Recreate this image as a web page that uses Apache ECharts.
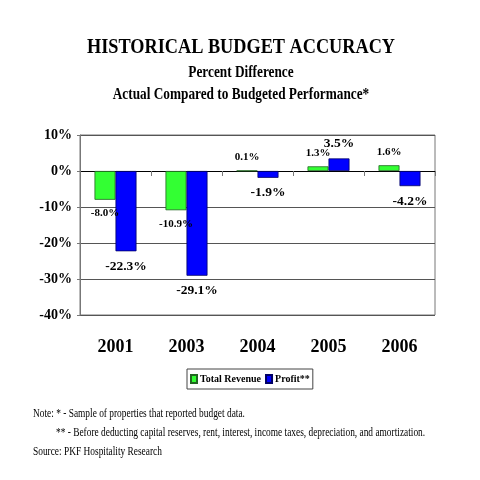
<!DOCTYPE html>
<html>
<head>
<meta charset="utf-8">
<script src="https://cdn.jsdelivr.net/npm/echarts@6/dist/echarts.min.js"></script>
<style>
  html, body { margin: 0; padding: 0; background: #fff; }
  #container { width: 480px; height: 480px; }
</style>
</head>
<body>
<div id="container"></div>
<script>
// 年份
const years = ['2001', '2003', '2004', '2005', '2006'];
// 总收入偏差 (%)
const revenueData = [-8.0, -10.9, 0.1, 1.3, 1.6];
// 利润偏差 (%)
const profitData = [-22.3, -29.1, -1.9, 3.5, -4.2];
// y 轴范围
const yMin = -40;
const yMax = 10;
const yStep = 10;

const serif = 'Liberation Serif';

// 正值标签在上，负值标签在下
function withLabelPos(arr) {
  return arr.map(v => ({
    value: v,
    label: { position: v >= 0 ? 'top' : 'bottom' }
  }));
}

function pct(p) {
  return p.value.toFixed(1) + '%';
}

// 压缩字体的文字（模拟窄体 Times）
function txt(text, x, y, size, weight, align, sx) {
  return {
    type: 'text',
    x: x,
    y: y,
    scaleX: sx,
    style: {
      text: text,
      font: weight + ' ' + size + 'px "' + serif + '"',
      fill: '#000',
      textAlign: align,
      textVerticalAlign: 'middle'
    }
  };
}

const myChart = echarts.init(document.getElementById('container'));

const option = {
  backgroundColor: '#fff',
  animation: false,
  graphic: [
    txt('HISTORICAL BUDGET ACCURACY', 241, 47, 22, 'bold', 'center', 0.83),
    txt('Percent Difference', 241, 73, 16, 'bold', 'center', 0.83),
    txt('Actual Compared to Budgeted Performance*', 241, 95, 16, 'bold', 'center', 0.83),
    txt('Note: * - Sample of properties that reported budget data.', 33, 414, 12.5, 'normal', 'left', 0.75),
    txt('** - Before deducting capital reserves, rent, interest, income taxes, depreciation, and amortization.', 56, 433, 12.5, 'normal', 'left', 0.75),
    txt('Source: PKF Hospitality Research', 33, 452, 12.5, 'normal', 'left', 0.75)
  ],
  legend: {
    left: 187,
    top: 369,
    padding: [5, 3, 5, 3],
    itemWidth: 6,
    itemHeight: 8,
    itemGap: 4,
    borderColor: '#444',
    borderWidth: 1,
    icon: 'rect',
    textStyle: { fontFamily: serif, fontWeight: 'bold', fontSize: 10, color: '#000', padding: [0, 0, 0, -2] },
    data: ['Total Revenue', 'Profit**']
  },
  grid: {
    left: 80,
    right: 45,
    top: 135,
    bottom: 165,
    show: true,
    borderColor: '#777',
    borderWidth: 1
  },
  xAxis: [
    {
      type: 'category',
      data: years,
      position: 'bottom',
      axisLine: { onZero: true, lineStyle: { color: '#000', width: 1 } },
      axisTick: { show: true, length: 5, lineStyle: { color: '#777' } },
      axisLabel: { show: false }
    },
    {
      type: 'category',
      data: years,
      position: 'bottom',
      axisLine: { show: false },
      axisTick: { show: false },
      axisLabel: {
        margin: 23,
        fontFamily: serif,
        fontWeight: 'bold',
        fontSize: 18,
        color: '#000'
      }
    }
  ],
  yAxis: {
    type: 'value',
    min: yMin,
    max: yMax,
    interval: yStep,
    axisLine: { show: true, lineStyle: { color: '#777' } },
    axisTick: { show: true, length: 3, lineStyle: { color: '#777' } },
    splitLine: { lineStyle: { color: '#555', width: 1 } },
    axisLabel: {
      margin: 8,
      formatter: '{value}%',
      fontFamily: serif,
      fontWeight: 'bold',
      fontSize: 14,
      color: '#000'
    }
  },
  series: [
    {
      name: 'Total Revenue',
      type: 'bar',
      xAxisIndex: 0,
      barWidth: 21,
      barGap: '0%',
      data: withLabelPos(revenueData),
      itemStyle: { color: '#33ff33', borderColor: '#226622', borderWidth: 0.8 },
      label: {
        show: true,
        distance: 8,
        formatter: pct,
        fontFamily: serif,
        fontWeight: 'bold',
        fontSize: 11,
        color: '#000'
      }
    },
    {
      name: 'Profit**',
      type: 'bar',
      xAxisIndex: 0,
      barWidth: 21,
      barGap: '0%',
      data: withLabelPos(profitData),
      itemStyle: { color: '#0000ff', borderColor: '#000066', borderWidth: 0.8 },
      label: {
        show: true,
        distance: 8,
        formatter: pct,
        fontFamily: serif,
        fontWeight: 'bold',
        fontSize: 13.5,
        color: '#000'
      }
    }
  ]
};

myChart.setOption(option, true);
</script>
</body>
</html>
